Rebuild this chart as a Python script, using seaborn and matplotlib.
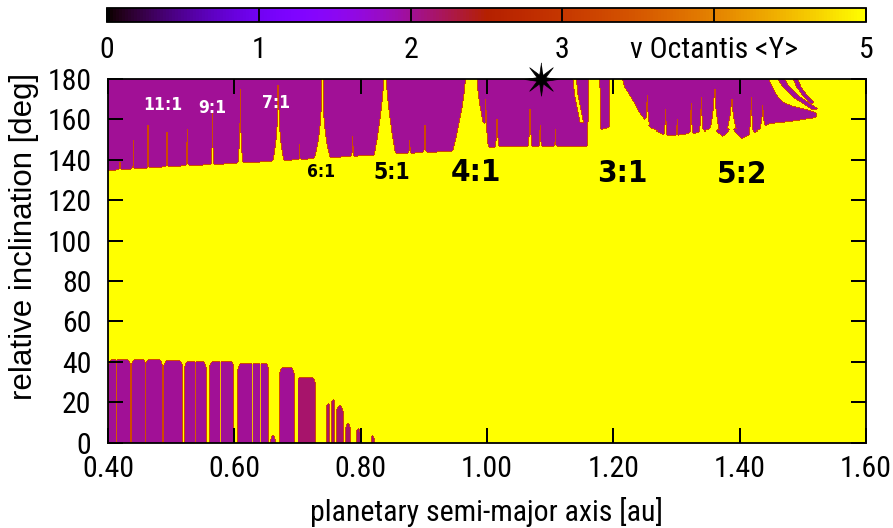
import numpy as np
import matplotlib
matplotlib.use("Agg")
import matplotlib.pyplot as plt
from matplotlib import font_manager
from matplotlib.markers import TICKUP, TICKDOWN, TICKLEFT, TICKRIGHT
import seaborn as sns

# ---------------- data ----------------
A_RANGE = (0.40, 1.60)          # planetary semi-major axis [au]
I_RANGE = (0.0, 180.0)          # relative inclination [deg]
VAL_REGULAR = 2.0               # MEGNO <Y> of regular orbits (purple)
VAL_CHAOTIC = 5.0               # MEGNO <Y> of chaotic orbits (yellow)
VAL_EDGE = 3.3                  # value seen on the border pixels
VAL_SPARSE = 2.15

# lower edge of the retrograde (upper) regular region
up_bot_a = [0.400, 0.498, 0.601, 0.704, 0.783, 0.862, 0.910, 0.957, 1.021, 1.158, 1.160,
            1.179, 1.180, 1.192, 1.193, 1.214, 1.218, 1.230, 1.242, 1.258, 1.282, 1.301,
            1.321, 1.342, 1.358, 1.374, 1.388, 1.404, 1.421, 1.437, 1.448, 1.480, 1.500,
            1.521, 1.527, 1.600]
up_bot_i = [135.0, 137.0, 138.5, 140.5, 142.0, 143.5, 144.0, 145.0, 147.0, 147.0, 181.0,
            181.0, 155.0, 156.0, 181.0, 181.0, 176.0, 170.0, 163.0, 156.0, 152.5, 152.6,
            153.5, 154.0, 156.0, 152.0, 156.0, 151.0, 153.5, 156.0, 158.0, 159.0, 160.0,
            161.0, 181.0, 181.0]
# upper edge of that region (below the arcs near 1.45-1.52 au)
up_top_a = [0.400, 1.445, 1.448, 1.458, 1.470, 1.485, 1.500, 1.521, 1.600]
up_top_i = [181.0, 181.0, 178.0, 172.0, 168.0, 166.0, 165.0, 163.0, 181.0]

# chaotic resonance spikes: centre a, tip inclination, half width at base / top, shape exponent
spike_a = [0.419, 0.440, 0.463, 0.493, 0.525, 0.565, 0.609, 0.669, 0.704, 0.740, 0.788,
           0.839, 0.878, 0.902, 0.975, 0.998, 1.016, 1.068, 1.084, 1.108, 1.253, 1.282,
           1.301, 1.324, 1.340, 1.361, 1.388, 1.419, 1.437]
spike_tip = [139, 150, 157, 154, 155, 163, 175, 177, 148, 180.5, 152,
             180.5, 150, 157, 180.5, 170, 160, 165, 157, 155, 172, 165,
             166, 168, 171, 175, 170, 171, 167]
spike_base_hw = [0.0015, 0.0015, 0.0015, 0.002, 0.0025, 0.003, 0.005, 0.010, 0.002, 0.014, 0.003,
                 0.018, 0.003, 0.003, 0.030, 0.005, 0.004, 0.004, 0.003, 0.002, 0.004, 0.003,
                 0.003, 0.003, 0.004, 0.008, 0.008, 0.004, 0.005]
spike_top_hw = [0.001, 0.001, 0.001, 0.001, 0.001, 0.001, 0.001, 0.0015, 0.001, 0.002, 0.001,
                0.003, 0.001, 0.001, 0.010, 0.001, 0.001, 0.001, 0.001, 0.001, 0.001, 0.001,
                0.001, 0.001, 0.001, 0.0015, 0.0015, 0.001, 0.001]
spike_pow = [3, 3, 3, 3, 3, 3, 3, 3, 3, 3, 3,
             1.5, 3, 3, 1.5, 2, 2, 2, 2, 2, 2, 2,
             2, 2, 2, 2, 2, 2, 2]

# curved stripes (centre line a(i), half width, value)
arc_yellow_a = [1.138, 1.141, 1.146, 1.150]
arc_yellow_i = [181.0, 172.0, 164.0, 158.0]
arc1_a = [1.464, 1.474, 1.490, 1.505, 1.519]
arc1_i = [181.0, 176.0, 171.0, 168.0, 165.0]
arc2_a = [1.487, 1.494, 1.503, 1.515]
arc2_i = [181.0, 176.0, 172.0, 168.0]

# prograde (lower) regular bands: start a, end a, top inclination, value
band_start = [0.402, 0.438, 0.460, 0.489, 0.522, 0.561, 0.606, 0.672, 0.701, 0.658,
              0.747, 0.755, 0.763, 0.778, 0.794, 0.818]
band_end = [0.435, 0.459, 0.485, 0.517, 0.554, 0.598, 0.653, 0.693, 0.728, 0.663,
            0.751, 0.759, 0.772, 0.783, 0.799, 0.821]
band_top = [41.0, 41.0, 41.0, 40.5, 40.0, 40.0, 39.0, 37.0, 32.0, 4.0,
            20.0, 22.0, 18.0, 10.0, 7.0, 4.0]
band_val = [2.0, 2.0, 2.0, 2.0, 2.0, 2.0, 2.0, 2.0, VAL_SPARSE, 2.0,
            VAL_SPARSE, VAL_SPARSE, VAL_SPARSE, VAL_SPARSE, VAL_SPARSE, VAL_SPARSE]
# thin chaotic lines cutting the lower bands
line_a = [0.414, 0.538, 0.577, 0.628, 0.641]
line_top = [41.0, 40.0, 40.0, 39.0, 39.0]
line_val = [3.5, 3.5, 4.5, 4.5, 4.5]

# labels of mean motion resonances
res_text = ["11:1", "9:1", "7:1", "6:1", "5:1", "4:1", "3:1", "5:2"]
res_a = [0.486, 0.565, 0.666, 0.737, 0.850, 0.983, 1.214, 1.404]
res_i = [167.0, 165.6, 168.0, 134.0, 133.6, 133.6, 133.1, 132.6]
res_size = [12.5, 12.5, 12.5, 12.5, 16.5, 22.5, 22.5, 22.5]
res_color = ["white", "white", "white", "black", "black", "black", "black", "black"]

star_a, star_i = 1.0855, 180.0   # nu Octantis b

x_ticks = [0.40, 0.60, 0.80, 1.00, 1.20, 1.40, 1.60]
y_ticks = [0, 20, 40, 60, 80, 100, 120, 140, 160, 180]
cb_ticks = [0, 1, 2, 3, 4, 5]
cb_labels = ["0", "1", "2", "3", "\u03bd Octantis <Y>", "5"]

# ---------------- build the MEGNO grid ----------------
NX, NY = 760, 360
a0, a1 = A_RANGE
i0, i1 = I_RANGE
A = a0 + (np.arange(NX) + 0.5) * (a1 - a0) / NX
I = i1 - (np.arange(NY) + 0.5) * (i1 - i0) / NY
AA, II = np.meshgrid(A, I)
Z = np.full((NY, NX), VAL_CHAOTIC)

ibot = np.interp(A, up_bot_a, up_bot_i)
itop = np.interp(A, up_top_a, up_top_i)
Z[(II >= ibot[None, :]) & (II <= itop[None, :])] = VAL_REGULAR


def stripe(ca, ci, hw, val):
    ca = np.asarray(ca)[::-1]
    ci = np.asarray(ci)[::-1]
    for r in range(NY):
        if ci[0] <= I[r] <= ci[-1]:
            c = np.interp(I[r], ci, ca)
            Z[r, np.abs(A - c) <= hw] = val


stripe(arc1_a, arc1_i, 0.0045, VAL_REGULAR)
stripe(arc2_a, arc2_i, 0.0028, VAL_REGULAR)
stripe(arc_yellow_a, arc_yellow_i, 0.0035, VAL_CHAOTIC)

for ca, tip, hb, ht, p in zip(spike_a, spike_tip, spike_base_hw, spike_top_hw, spike_pow):
    base = np.interp(ca, up_bot_a, up_bot_i) - 1.0
    frac = np.clip((tip - II) / (tip - base), 0, 1)
    hw = ht + (hb - ht) * frac ** p
    Z[(II <= tip) & (II >= base) & (np.abs(AA - ca) <= hw)] = VAL_CHAOTIC

for s, e, t, v in zip(band_start, band_end, band_top, band_val):
    # slightly rounded shoulders at the band edges
    edge = np.clip(1 - np.minimum(AA - s, e - AA) / 0.004, 0, 1)
    Z[(AA >= s) & (AA <= e) & (II <= t - 2.5 * edge ** 2)] = v
for la, lt, lv in zip(line_a, line_top, line_val):
    col = np.argmin(np.abs(A - la))
    Z[I <= lt, col] = lv

# red/orange pixels on the borders between the two regimes
P = Z < 2.6
nb = np.zeros_like(P)
nb[1:, :] |= P[:-1, :]
nb[:-1, :] |= P[1:, :]
nb[:, 1:] |= P[:, :-1]
nb[:, :-1] |= P[:, 1:]
Z[nb & (Z == VAL_CHAOTIC)] = VAL_EDGE

# ---------------- draw ----------------
sns.set_theme(style="white")
names = {f.name for f in font_manager.fontManager.ttflist}
H_FONT, H_SIZE = "Liberation Sans", 18.5
for cand, size in [("Liberation Sans Narrow", 22), ("Arial Narrow", 22),
                   ("Nimbus Sans Narrow", 22), ("Roboto Condensed", 21.5),
                   ("Archivo Narrow", 21.5), ("PT Sans Narrow", 21.5)]:
    if cand in names:
        H_FONT, H_SIZE = cand, size
        break
plt.rcParams["font.family"] = [H_FONT, "Liberation Sans", "DejaVu Sans"]

W, H = 893, 528
fig = plt.figure(figsize=(W / 100, H / 100), dpi=100)
ax = fig.add_axes([108 / W, 1 - 442.5 / H, 758 / W, 363.5 / H])
cax = fig.add_axes([107 / W, 1 - 22 / H, 759 / W, 14 / H])

sns.heatmap(Z, ax=ax, cmap="gnuplot", vmin=0, vmax=5, cbar_ax=cax,
            cbar_kws={"orientation": "horizontal"},
            xticklabels=False, yticklabels=False)
ax.set_axisbelow(False)
cax.set_axisbelow(False)


def to_x(a):
    return (np.asarray(a) - a0) / (a1 - a0) * NX


def to_y(i):
    return (i1 - np.asarray(i)) / (i1 - i0) * NY


ax.set_xticks(to_x(x_ticks))
ax.set_xticklabels([f"{v:.2f}" for v in x_ticks])
ax.set_yticks(to_y(y_ticks))
ax.set_yticklabels([str(v) for v in y_ticks], rotation=0)
ax.tick_params(axis="both", which="major", direction="in", length=10.8, width=1.3,
               color="black", top=True, right=True, bottom=True, left=True,
               labelsize=H_SIZE, labelcolor="black")
ax.tick_params(axis="x", pad=9)
ax.tick_params(axis="y", pad=12)

# inward tick marks on all four sides, as tick-shaped markers at the tick values
xt = to_x(x_ticks)
yt = to_y(y_ticks)
tick_style = dict(linestyle="none", color="black", markersize=11, markeredgewidth=1.4,
                  clip_on=False, zorder=9)
ax.plot(xt, np.full(len(xt), NY), marker=TICKUP, **tick_style)
ax.plot(xt, np.full(len(xt), 0), marker=TICKDOWN, **tick_style)
ax.plot(np.full(len(yt), 0), yt, marker=TICKRIGHT, **tick_style)
ax.plot(np.full(len(yt), NX), yt, marker=TICKLEFT, **tick_style)
ax.set_xlim(0, NX)
ax.set_ylim(NY, 0)

for s in ax.spines.values():
    s.set_visible(True)
    s.set_color("black")
    s.set_linewidth(1.3)
    s.set_zorder(7)
ax.set_xlabel("planetary semi-major axis [au]", fontsize=H_SIZE, color="black")
ax.xaxis.label.set_va("center")
ax.xaxis.set_label_coords(0.5, (442.5 - 512) / 363.5)
ax.set_ylabel("relative inclination [deg]", fontsize=22.5, color="black",
              family=["Liberation Sans", "DejaVu Sans"])
ax.yaxis.set_label_coords((39 - 108) / 758, (442.5 - 236) / 363.5)

for t, ra, ri, fs, c in zip(res_text, res_a, res_i, res_size, res_color):
    ax.text(to_x(ra), to_y(ri), t, ha="center", va="center", fontsize=fs,
            fontweight="bold", color=c, family="DejaVu Sans", fontstretch="condensed",
            zorder=8)

ang = np.linspace(0, 2 * np.pi, 17)[:-1] + np.pi / 2
rad = np.where(np.arange(16) % 2 == 0, 1.0, 0.28)
star_verts = np.column_stack([rad * np.cos(ang), rad * np.sin(ang)])
ax.plot([to_x(star_a)], [to_y(star_i)], marker=star_verts, markersize=24,
        markerfacecolor="black", markeredgecolor="black", markeredgewidth=0.5,
        clip_on=False, zorder=10)

cbar = ax.collections[0].colorbar
cbar.set_ticks(cb_ticks)
cbar.set_ticklabels(cb_labels)
cbar.outline.set_linewidth(1.3)
cbar.outline.set_edgecolor("black")
cbar.ax.tick_params(axis="x", direction="in", length=10, width=1.3, color="black",
                    bottom=True, labelsize=H_SIZE, pad=10, labelcolor="black")

fig.savefig("out.png", dpi=100)
